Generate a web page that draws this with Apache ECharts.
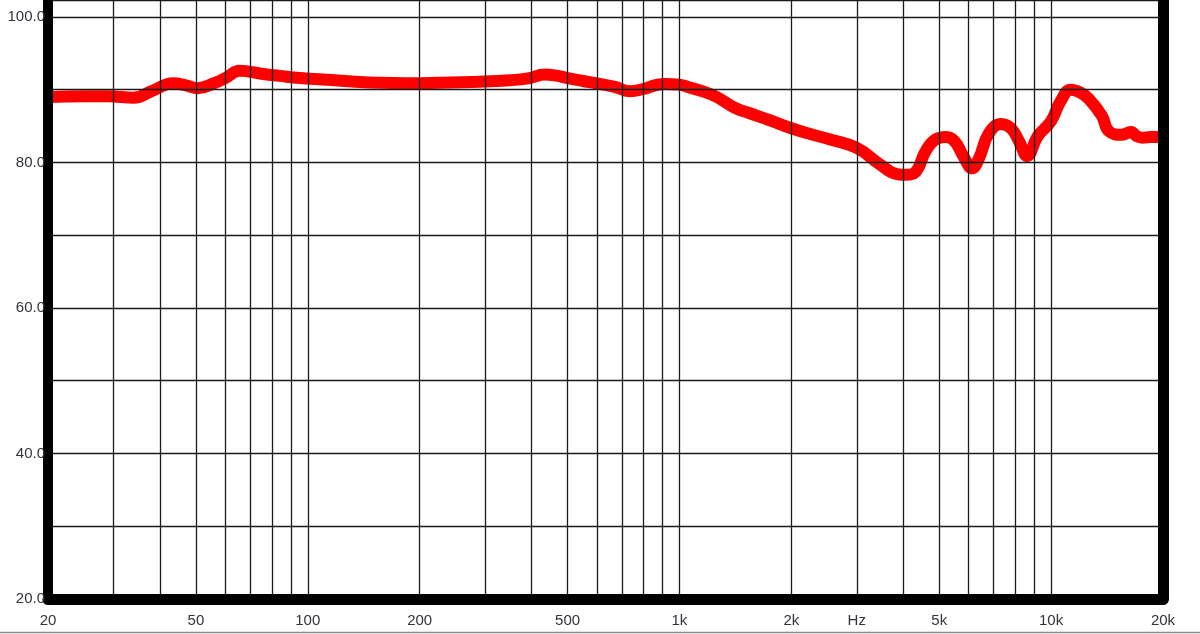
<!DOCTYPE html>
<html>
<head>
<meta charset="utf-8">
<script src="https://cdn.jsdelivr.net/npm/echarts@6/dist/echarts.min.js"></script>
<style>
html,body{margin:0;padding:0;background:#fff;}
#chart{width:1200px;height:634px;}
</style>
</head>
<body>
<div id="chart"></div>
<script>
// Frequency response data (Hz, dB)
var freqs = [20, 25, 29, 34, 38, 43.4, 47, 50.6, 56, 60, 65.6, 75, 84, 95, 110, 146, 200, 290, 350, 395, 434, 470, 500, 550, 610, 670, 734, 800, 860, 912, 1000, 1064, 1150, 1260, 1410, 1540, 1750, 2000, 2250, 2530, 3000, 3450, 3850, 4074, 4300, 4600, 4900, 5222, 5500, 5800, 6134, 6400, 6800, 7340, 7800, 8200, 8620, 9200, 10000, 10600, 11300, 12000, 12650, 13700, 14300, 15500, 16400, 17000, 17600, 18500, 19500, 20000];
var levels = [89.0, 89.1, 89.1, 88.9, 89.8, 90.9, 90.6, 90.2, 90.9, 91.6, 92.6, 92.2, 91.9, 91.6, 91.4, 91.0, 90.9, 91.1, 91.3, 91.6, 92.1, 91.9, 91.6, 91.2, 90.8, 90.4, 89.8, 90.1, 90.6, 90.8, 90.7, 90.3, 89.8, 89.0, 87.5, 86.8, 85.8, 84.7, 83.9, 83.2, 82.0, 79.8, 78.4, 78.3, 78.6, 81.6, 83.2, 83.5, 82.9, 80.9, 79.2, 80.6, 84.0, 85.3, 84.7, 82.9, 80.9, 83.6, 85.7, 88.4, 90.0, 89.6, 88.7, 86.4, 84.3, 83.8, 84.2, 83.6, 83.4, 83.5, 83.5, 83.5];

// Axis ticks / labels
var gridFreqs = [30, 40, 50, 60, 70, 80, 90, 100, 200, 300, 400, 500, 600, 700, 800, 900, 1000, 2000, 3000, 4000, 5000, 6000, 7000, 8000, 9000, 10000];
var xLabelValues = [20, 50, 100, 200, 500, 1000, 2000, 3000, 5000, 10000, 20000];
var xLabelTexts = ['20', '50', '100', '200', '500', '1k', '2k', 'Hz', '5k', '10k', '20k'];
var yMin = 20, yMax = 102.33, yStep = 10;

var seriesData = freqs.map(function (f, i) { return [f, levels[i]]; });

var chart = echarts.init(document.getElementById('chart'), null, {renderer: 'canvas'});
var textColor = '#36323d';
var font = 'Liberation Sans, Arial, sans-serif';

chart.setOption({
  animation: false,
  backgroundColor: '#ffffff',
  grid: {left: 48, right: 37, top: -1, bottom: 35, containLabel: false},
  xAxis: {
    type: 'log',
    logBase: 10,
    min: 20,
    max: 20000,
    z: 5,
    axisLine: {show: true, lineStyle: {color: '#000', width: 11}},
    axisTick: {show: false, customValues: gridFreqs},
    axisLabel: {
      show: true,
      customValues: xLabelValues,
      margin: 14,
      color: textColor,
      fontSize: 15,
      fontFamily: font,
      formatter: function (v) {
        for (var i = 0; i < xLabelValues.length; i++) {
          if (Math.abs(xLabelValues[i] - v) < 0.5) return xLabelTexts[i];
        }
        return '';
      }
    },
    splitLine: {show: true, lineStyle: {color: '#1a1a1a', width: 1.3}},
    minorSplitLine: {show: false}
  },
  yAxis: [{
    type: 'value',
    min: yMin,
    max: yMax,
    interval: yStep,
    z: 5,
    axisLine: {show: true, lineStyle: {color: '#000', width: 10}},
    axisTick: {show: false},
    axisLabel: {
      margin: 3,
      color: textColor,
      fontSize: 15,
      fontFamily: font,
      formatter: function (v) {
        return (Math.abs(v % 20) < 1e-6 && v <= 100) ? v.toFixed(1) : '';
      }
    },
    splitLine: {
      show: true,
      lineStyle: {color: '#1a1a1a', width: 1.3}
    }
  }, {
    type: 'value',
    position: 'right',
    min: yMin,
    max: yMax,
    interval: yStep,
    z: 5,
    axisLine: {show: true, lineStyle: {color: '#000', width: 11}},
    axisTick: {show: false},
    axisLabel: {show: false},
    splitLine: {show: false}
  }],
  graphic: [{
    type: 'line',
    shape: {x1: 0, y1: 632.5, x2: 1200, y2: 632.5},
    style: {stroke: '#8a8a8a', lineWidth: 1.5},
    silent: true
  }],
  series: [{
    type: 'line',
    data: seriesData,
    smooth: 0.45,
    showSymbol: false,
    symbol: 'none',
    z: 2,
    lineStyle: {color: '#ff0000', width: 12, cap: 'butt', join: 'round'}
  }]
});
</script>
</body>
</html>
